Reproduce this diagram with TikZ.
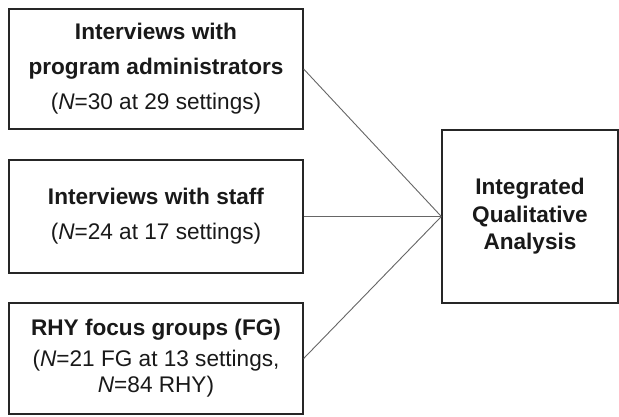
\documentclass[tikz,border=0pt]{standalone}
\usepackage{fontspec}
\setmainfont{Liberation Sans}
\begin{document}
\begin{tikzpicture}[x=1pt,y=-1pt,
  srcbox/.style={draw=black!85, line width=1.3pt, minimum width=294pt, inner sep=0pt, align=center, text=black!90},
  link/.style={draw=black!60, line width=0.9pt}]
\useasboundingbox (0,0) rectangle (619,416);
\fill[white] (0,0) rectangle (619,416);
\node[srcbox, minimum height=120pt, font=\fontsize{22.6}{35}\selectfont] (a) at (156,69)
  {\textbf{Interviews with}\\\textbf{program administrators}\\(\textit{N}=30 at 29 settings)};
\node[srcbox, minimum height=113pt, font=\fontsize{22.6}{35}\selectfont] (b) at (156,216.5)
  {\textbf{Interviews with staff}\\(\textit{N}=24 at 17 settings)};
\node[srcbox, minimum height=111pt, font=\fontsize{22.6}{26}\selectfont] (c) at (156,358.5)
  {\textbf{RHY focus groups (FG)}\\[5pt](\textit{N}=21 FG at 13 settings,\\\textit{N}=84 RHY)};
\node[draw=black!85, line width=1.3pt, minimum width=176pt, minimum height=173pt, inner sep=0pt, align=center, text=black!90, font=\fontsize{22.6}{27.5}\selectfont\bfseries] (q) at (530,216.5)
  {Integrated\\Qualitative\\Analysis};
\draw[link] (a.east) -- (q.west);
\draw[link] (b.east) -- (q.west);
\draw[link] (c.east) -- (q.west);
\end{tikzpicture}
\end{document}
